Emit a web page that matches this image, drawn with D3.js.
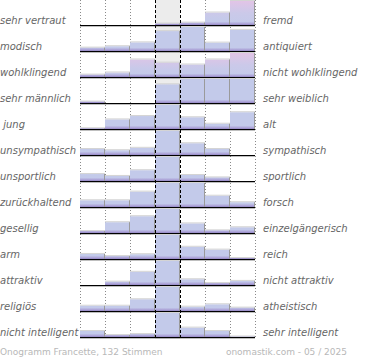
<!DOCTYPE html>
<html><head><meta charset="utf-8">
<script src="https://cdn.jsdelivr.net/npm/d3@7"></script>
<style>body{margin:0;background:#fff}svg{display:block}</style>
</head><body><svg id="c" width="370" height="360"></svg>
<script>
const leftLabels = ["sehr vertraut","modisch","wohlklingend","sehr männlich"," jung","unsympathisch","unsportlich","zurückhaltend","gesellig","arm","attraktiv","religiös","nicht intelligent"];
const rightLabels = ["fremd","antiquiert","nicht wohlklingend","sehr weiblich","alt","sympathisch","sportlich","forsch","einzelgängerisch","reich","nicht attraktiv","atheistisch","sehr intelligent"];
const columns = [-3,-2,-1,0,1,2,3];
// relative bar heights per row (100 = full row height)
const shares = [
  [0,0,0,6,10,52,100],
  [14,20,36,83,100,35,88],
  [10,19,73,60,52,73,100],
  [6,0,0,78,100,100,100],
  [3,40,54,100,49,22,70],
  [25,20,30,100,49,25,0],
  [29,21,45,100,25,15,0],
  [28,28,64,100,100,47,20],
  [8,45,70,100,40,11,24],
  [21,12,20,100,51,39,4],
  [0,14,55,100,24,8,17],
  [22,22,49,100,18,28,14],
  [25,8,12,100,39,25,2]
];
// pink tint at the top of each bar (0 = blue, 1 = pink)
const tints = [
  [0,0,0,0,0,0.3,1],
  [0,0,0,0,0,0,0],
  [0.3,0.3,0.7,0.5,0.3,0.7,1],
  [0,0,0,0,0,0,0],
  [0,0,0,0,0,0,0],
  [0,0,0,0,0,0,0],
  [0,0,0,0,0,0,0],
  [0,0,0,0,0,0,0],
  [0,0,0,0,0,0,0],
  [0,0,0,0,0,0,0],
  [0,0,0,0,0,0,0],
  [0,0,0,0,0,0,0],
  [0,0,0,0,0,0,0]
];
const footerLeft = "Onogramm Francette, 132 Stimmen";
const footerRight = "onomastik.com - 05 / 2025";

const svg = d3.select("#c");
const x = d3.scaleBand().domain(columns).range([80,255]).padding(0);
const row = d3.scaleBand().domain(d3.range(leftLabels.length)).range([1,339]).padding(0);
const rh = 24;
const y = d3.scaleLinear().domain([0,100]).range([rh,0]);
const blue = "#c3caea", pink = "#e2c4e6";
const tintColor = d3.interpolateRgb(blue, pink);

const bars = shares.flatMap((r,i)=>r.map((v,j)=>({i,j,v,c:columns[j],t:tints[i][j]})));

const defs = svg.append("defs");
const grads = defs.selectAll("linearGradient.b").data(bars).join("linearGradient").attr("class","b")
  .attr("id",d=>`g${d.i}_${d.j}`).attr("x1",0).attr("x2",0).attr("y1",0).attr("y2",1);
grads.append("stop").attr("offset",0).attr("stop-color",d=>tintColor(d.t));
grads.append("stop").attr("offset",0.5).attr("stop-color",d=>tintColor(d.t*0.25));
grads.append("stop").attr("offset",1).attr("stop-color",blue);
const sg = defs.append("linearGradient").attr("id","stripe").attr("gradientUnits","userSpaceOnUse")
  .attr("x1",0).attr("x2",0).attr("y1",rh-3.5).attr("y2",rh);
sg.append("stop").attr("offset",0).attr("stop-color",blue);
sg.append("stop").attr("offset",0.5).attr("stop-color","#b3addd");
sg.append("stop").attr("offset",1).attr("stop-color","#9486c4");

// center band
svg.append("rect").attr("x",x(0)).attr("y",0).attr("width",x.bandwidth()).attr("height",339).attr("fill","#ececec");

// dotted grid
const dotted = [x(-3),x(-2),x(-1),x(2),x(3),x(3)+x.bandwidth()];
svg.selectAll("line.dot").data(dotted).join("line").attr("class","dot")
  .attr("x1",d=>d+0.5).attr("x2",d=>d+0.5).attr("y1",0).attr("y2",339)
  .attr("stroke","#8a8a8a").attr("stroke-dasharray","1,2");

const rows = svg.selectAll("g.row").data(d3.range(shares.length)).join("g").attr("class","row")
  .attr("transform",i=>`translate(0,${row(i)})`);

const rb = i => bars.filter(b=>b.i===i && b.v>0);
rows.selectAll("rect.bar").data(rb).join("rect").attr("class","bar")
  .attr("x",d=>x(d.c)).attr("width",x.bandwidth())
  .attr("y",d=>y(d.v)).attr("height",d=>rh-y(d.v))
  .attr("fill",d=>`url(#g${d.i}_${d.j})`);
rows.selectAll("rect.stripe").data(rb).join("rect").attr("class","stripe")
  .attr("x",d=>x(d.c)).attr("width",x.bandwidth())
  .attr("y",d=>Math.max(y(d.v), rh-3.5)).attr("height",d=>Math.min(rh-y(d.v),3.5))
  .attr("fill","url(#stripe)");
// bar top edges and right edges
rows.selectAll("line.top").data(rb).join("line").attr("class","top")
  .attr("x1",d=>x(d.c)).attr("x2",d=>x(d.c)+x.bandwidth())
  .attr("y1",d=>y(d.v)-0.5).attr("y2",d=>y(d.v)-0.5)
  .attr("stroke","#d4d4d4");
rows.selectAll("line.side").data(rb).join("line").attr("class","side")
  .attr("x1",d=>x(d.c)+x.bandwidth()-0.5).attr("x2",d=>x(d.c)+x.bandwidth()-0.5)
  .attr("y1",d=>y(d.v)).attr("y2",rh)
  .attr("stroke","#9a9a9a");
// baseline
rows.append("line").attr("x1",80).attr("x2",255).attr("y1",rh+0.6).attr("y2",rh+0.6)
  .attr("stroke","#000").attr("stroke-width",1.4);

// dashed center lines
svg.selectAll("line.dash").data([x(0),x(1)]).join("line").attr("class","dash")
  .attr("x1",d=>d+0.5).attr("x2",d=>d+0.5).attr("y1",0).attr("y2",339)
  .attr("stroke","#000").attr("stroke-dasharray","3,2");

// labels
svg.selectAll("text.l").data(leftLabels).join("text").attr("class","l")
  .attr("x",0).attr("y",(d,i)=>row(i)+rh-1.5)
  .attr("font-family","DejaVu Sans").attr("font-style","italic").attr("font-size",10)
  .attr("fill","#666").style("white-space","pre").text(d=>d);
svg.selectAll("text.r").data(rightLabels).join("text").attr("class","r")
  .attr("x",263).attr("y",(d,i)=>row(i)+rh-1.5)
  .attr("font-family","DejaVu Sans").attr("font-style","italic").attr("font-size",10)
  .attr("fill","#666").text(d=>d);

svg.append("text").attr("x",0).attr("y",355).attr("font-family","DejaVu Sans").attr("font-size",9)
  .attr("fill","#b8b8b8").text(footerLeft);
svg.append("text").attr("x",347).attr("y",355).attr("text-anchor","end").attr("font-family","DejaVu Sans").attr("font-size",9)
  .attr("fill","#b8b8b8").text(footerRight);
</script></body></html>
